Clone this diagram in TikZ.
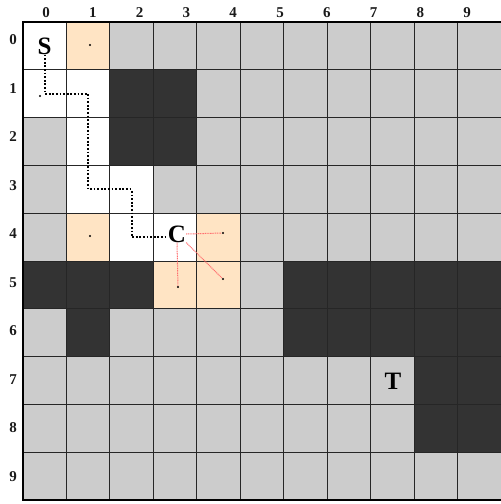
\documentclass[tikz,border=0pt]{standalone}
\usepackage{fontspec}
\setmainfont{Liberation Serif}
\begin{document}
\begin{tikzpicture}[x=1pt,y=-1pt,
  graycell/.style={fill=cellgray},
  darkcell/.style={fill=celldark},
  whitecell/.style={fill=white},
  peachcell/.style={fill=cellpeach},
  biglabel/.style={font=\bfseries\fontsize{25}{25}\selectfont, inner sep=0pt},
  idxlabel/.style={font=\bfseries\fontsize{15}{15}\selectfont, inner sep=0pt, text=labelcol},
  pathline/.style={draw=black, line width=1.8pt, dash pattern=on 1.8pt off 1.8pt},
  redline/.style={draw=lred, line width=1pt, dash pattern=on 1pt off 0.7pt},
  dotmark/.style={circle, fill=black, inner sep=0pt, minimum size=2.4pt}
]
\definecolor{cellgray}{HTML}{CCCCCC}
\definecolor{celldark}{HTML}{333333}
\definecolor{cellpeach}{HTML}{FFE4C4}
\definecolor{lred}{HTML}{FF7070}
\definecolor{labelcol}{HTML}{1A1A1A}
\useasboundingbox (0,0) rectangle (501,504);
\def\cw{43.45}
\def\ch{47.8}
% background gray
\fill[cellgray] (23,22) rectangle (503,500);
% special cells: {col/row/style}
\foreach \c/\r/\s in {0/0/whitecell,1/0/peachcell,
  0/1/whitecell,1/1/whitecell,2/1/darkcell,3/1/darkcell,
  1/2/whitecell,2/2/darkcell,3/2/darkcell,
  1/3/whitecell,2/3/whitecell,
  1/4/peachcell,2/4/whitecell,3/4/whitecell,4/4/peachcell,
  0/5/darkcell,1/5/darkcell,2/5/darkcell,3/5/peachcell,4/5/peachcell,
  6/5/darkcell,7/5/darkcell,8/5/darkcell,9/5/darkcell,10/5/darkcell,
  1/6/darkcell,6/6/darkcell,7/6/darkcell,8/6/darkcell,9/6/darkcell,10/6/darkcell,
  9/7/darkcell,10/7/darkcell,9/8/darkcell,10/8/darkcell}
  \path[\s] ({23+\c*\cw},{22+\r*\ch}) rectangle ({23+(\c+1)*\cw},{22+(\r+1)*\ch});
% grid lines
\foreach \c in {1,...,10}
  \draw[line width=0.9pt, black!85] ({23+\c*\cw},22) -- ({23+\c*\cw},500);
\foreach \r in {1,...,9}
  \draw[line width=0.9pt, black!85] (23,{22+\r*\ch}) -- (503,{22+\r*\ch});
% outer border
\draw[line width=2pt, black] (503,22) -- (23,22) -- (23,500) -- (503,500);
% index labels
\foreach \k in {0,...,9} {
  \node[idxlabel] (col\k) at ({46+46.8*\k},13) {\k};
  \node[idxlabel] (row\k) at (13,{40+48.5*\k}) {\k};
}
% cell centre coordinates
\coordinate (p01) at (44.7,93.7);
\coordinate (p11) at (88.2,93.7);
\coordinate (p13) at (88.2,189.3);
\coordinate (p23) at (131.6,189.3);
\coordinate (p24) at (131.6,237.1);
% letters
\node[biglabel] (S) at (44.7,46) {S};
\node[biglabel] (C) at (177,234) {C};
\node[biglabel] (T) at (393,381) {T};
% peach dots
\node[dotmark] (d10) at (90,45) {};
\node[dotmark] (d14) at (90,236) {};
\node[dotmark] (d44) at (223,233) {};
\node[dotmark] (d35) at (178,287) {};
\node[dotmark] (d45) at (223,279) {};
\node[dotmark] (dstart) at (40,96) {};
% main path
\draw[pathline] (S.south) -- (S.south |- p01) -- (p01) -- (p11) -- (p13) -- (p23) -- (p24) -- (C.west |- p24);
% red lines
\draw[redline] (C.east) -- (d44);
\draw[redline] (C.south) -- (d35);
\draw[redline] (C.south east) -- (d45);
\end{tikzpicture}
\end{document}
